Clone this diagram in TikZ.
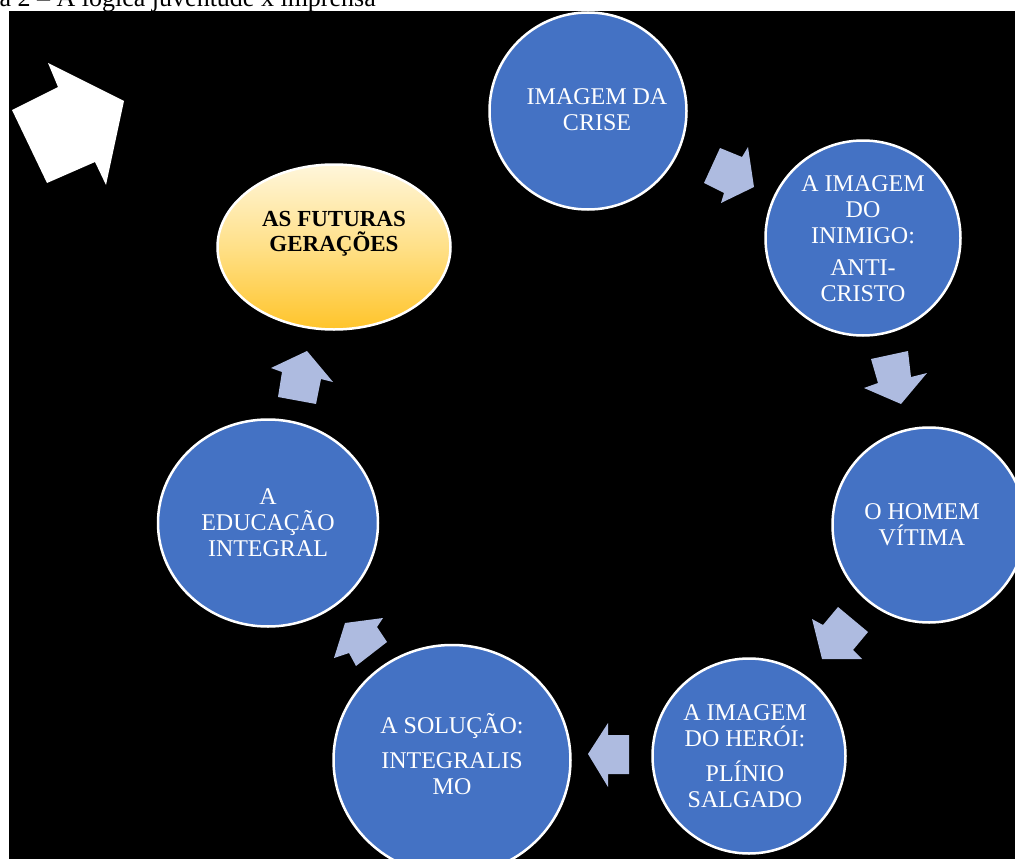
\documentclass[tikz,border=0pt]{standalone}
\usepackage{fontspec}
\setmainfont{Liberation Serif}
\usetikzlibrary{shapes.geometric}
\definecolor{circblue}{HTML}{4472C4}
\definecolor{turnblue}{HTML}{AEBBE0}
\definecolor{goldlight}{HTML}{FFF6DA}
\definecolor{goldmid}{HTML}{FFE088}
\definecolor{golddark}{HTML}{FFC42A}
\tikzset{
	bubble/.style={ellipse, draw=white, line width=2.5pt, fill=circblue, inner sep=0pt},
	goal/.style={ellipse, draw=white, line width=2.5pt, top color=goldlight, bottom color=golddark, middle color=goldmid, inner sep=0pt},
	bubbletext/.style={text=white, align=center, inner sep=0pt, font=\fontsize{24}{26}\selectfont},
	turn/.style={fill=turnblue}
}
\begin{document}
\begin{tikzpicture}[x=1pt, y=-1pt, line join=round]
	\useasboundingbox (0,0) rectangle (1015,859);
	\node[anchor=base east, inner sep=0pt, font=\fontsize{26}{30}\selectfont] (caption) at (376,7) {Figura 2 -- A lógica juventude x imprensa};
	\fill[black] (9,11) rectangle (1015,859);
	% seta branca
	\fill[white] (48,63)--(58,87)--(12,110)--(47,183)--(95,162)--(106,185)--(124,101)--cycle;
	% setas do ciclo
	\fill[turn] (720,148)--(742,157)--(748,147)--(754,187)--(721,203)--(724,193)--(704,183)--cycle;
	\fill[turn] (871,359)--(908,351)--(911,377)--(927,373)--(901,404)--(864,388)--(878,383)--cycle;
	\fill[turn] (838,607)--(868,632)--(853,650)--(862,659)--(822,659)--(812,619)--(823,625)--cycle;
	\fill[turn] (629,735)--(629,774)--(608,774)--(608,787)--(588,754)--(608,723)--(608,735)--cycle;
	\fill[turn] (345,623)--(383,618)--(377,627)--(387,642)--(356,666)--(349,653)--(334,658)--cycle;
	\fill[turn] (307,351)--(333,382)--(321,379)--(316,404)--(278,397)--(282,372)--(271,368)--cycle;
	% etapas
	\node[bubble, minimum width=197, minimum height=197] (crise) at (588,111) {};
	\node[bubble, minimum width=195, minimum height=195] (inimigo) at (863,238) {};
	\node[bubble, minimum width=193, minimum height=195] (vitima) at (929,525) {};
	\node[bubble, minimum width=193, minimum height=195] (heroi) at (749,756) {};
	\node[bubble, minimum width=237, minimum height=230] (solucao) at (452,760) {};
	\node[bubble, minimum width=220, minimum height=207] (educacao) at (268,523) {};
	\node[goal, minimum width=233, minimum height=165] (futuras) at (334,247) {};
	% textos
	\node[bubbletext] (crisetxt) at ([xshift=9pt,yshift=1pt]crise.center) {IMAGEM DA\\CRISE};
	\node[bubbletext] (inimigotxt) at ([yshift=-1pt]inimigo.center) {A IMAGEM\\DO\\INIMIGO:\\[6pt]ANTI-\\CRISTO};
	\node[bubbletext] (vitimatxt) at ([xshift=-7pt]vitima.center) {O HOMEM\\VÍTIMA};
	\node[bubbletext] (heroitxt) at ([xshift=-4pt]heroi.center) {A IMAGEM\\DO HERÓI:\\[9pt]PLÍNIO\\SALGADO};
	\node[bubbletext] (solucaotxt) at ([yshift=6pt]solucao.center) {A SOLUÇÃO:\\[9pt]INTEGRALIS\\MO};
	\node[bubbletext] (educacaotxt) at (educacao.center) {A\\EDUCAÇÃO\\INTEGRAL};
	\node[align=center, inner sep=0pt, font=\fontsize{23}{25}\selectfont\bfseries] (futtxt) at ([yshift=13pt]futuras.center) {AS FUTURAS\\GERAÇÕES};
\end{tikzpicture}
\end{document}
